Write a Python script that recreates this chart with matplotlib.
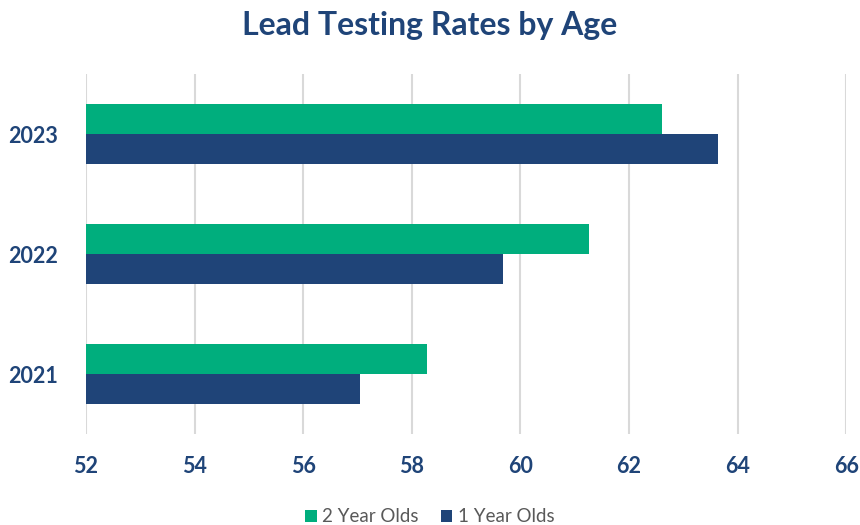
import numpy as np
import matplotlib
matplotlib.use('Agg')
import matplotlib.pyplot as plt

years = ['2021', '2022', '2023']
two_year_olds = [58.28, 61.26, 62.61]
one_year_olds = [57.04, 59.68, 63.64]
x_ticks = [52, 54, 56, 58, 60, 62, 64, 66]

green = '#00AE7D'
navy = '#1F4478'

plt.rcParams['font.family'] = ['Lato', 'DejaVu Sans']

fig = plt.figure(figsize=(8.6, 5.25), dpi=100)
ax = fig.add_axes([0.1, 0.173, 0.884, 0.686])

y = np.arange(len(years))
h = 0.25
ax.barh(y + h / 2, [v - 52 for v in two_year_olds], height=h, left=52,
        color=green, label='2 Year Olds', zorder=3)
ax.barh(y - h / 2, [v - 52 for v in one_year_olds], height=h, left=52,
        color=navy, label='1 Year Olds', zorder=3)

ax.set_xlim(52, 66)
ax.set_ylim(-0.5, 2.5)
ax.set_xticks(x_ticks)
ax.set_yticks(y)
ax.set_yticklabels(years)
ax.grid(axis='x', color='#D9D9D9', linewidth=1.5, zorder=0)
for s in ax.spines.values():
    s.set_visible(False)
ax.tick_params(length=0, labelsize=15.5, labelcolor=navy)
ax.tick_params(axis='x', pad=16)
ax.tick_params(axis='y', pad=20)
for lab in ax.get_xticklabels() + ax.get_yticklabels():
    lab.set_fontweight('bold')

fig.suptitle('Lead Testing Rates by Age', y=0.98, fontsize=23,
             fontweight='bold', color=navy)

fig.legend(handles=ax.get_legend_handles_labels()[0], labels=['2 Year Olds', '1 Year Olds'],
           loc='lower center', bbox_to_anchor=(0.5, -0.033), ncol=2, frameon=False,
           fontsize=13.5, labelcolor='#595959', handlelength=0.6, handleheight=0.6,
           handletextpad=0.3, columnspacing=1.2)

fig.savefig('out.png', dpi=100)
